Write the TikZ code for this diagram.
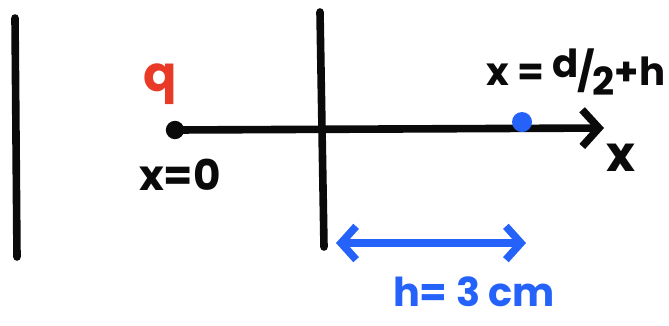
\documentclass[tikz,border=0pt]{standalone}
\usepackage{fontspec}
\setmainfont{Poppins}
\usetikzlibrary{arrows.meta,positioning,calc}
\definecolor{chargeRed}{RGB}{232,58,38}
\definecolor{markBlue}{RGB}{36,98,250}
\definecolor{inkBlack}{RGB}{10,10,10}
\tikzset{
  wall/.style={draw=inkBlack, line width=6.5pt, line cap=round},
  axis/.style={draw=inkBlack, line width=6.5pt, line cap=round, -{Straight Barb[length=5mm, width=11mm, line width=6.5pt]}},
  span/.style={draw=markBlue, line width=6.5pt, line cap=round, {Straight Barb[length=4.5mm, width=10mm, line width=6.5pt]}-{Straight Barb[length=4.5mm, width=10mm, line width=6.5pt]}},
  label/.style={inner sep=0pt, font=\fontsize{36}{38}\selectfont\bfseries, text=inkBlack},
  dot/.style={circle, inner sep=0pt, minimum size=#1}
}
\newcommand{\halfd}{\raisebox{0.35ex}{d}\kern-0.05em/\kern-0.05em\raisebox{-0.45ex}{2}}

\begin{document}
\begin{tikzpicture}[x=0.03cm, y=-0.03cm]
  \useasboundingbox (0,0) rectangle (669,325);

  % plates
  \coordinate (lefttop) at (15,18);
  \coordinate (leftbot) at (17,257);
  \coordinate (midtop) at (320,12);
  \coordinate (midbot) at (324,247);
  \draw[wall] (lefttop) -- (leftbot);
  \draw[wall] (midtop) -- (midbot);

  % x axis
  \coordinate (origin) at (175,130);
  \coordinate (axisend) at (604,128);
  \draw[axis] (origin) -- (axisend);
  \node[dot=5.5mm, fill=inkBlack] (q0) at (origin) {};
  \node[dot=6mm, fill=markBlue] (pt) at (522,122) {};

  % labels
  \node[label, text=chargeRed, font=\fontsize{42}{44}\selectfont\bfseries] (qlab) at (160,84) {q};
  \node[label] (x0lab) at (180,175) {x=0};
  \node[label, font=\fontsize{33}{35}\selectfont\bfseries] (ptlab) at (576,72) {x = \halfd+h};
  \node[label, font=\fontsize{42}{44}\selectfont\bfseries] (xlab) at (621,158) {x};

  % distance h
  \coordinate (hleft) at (336,243);
  \coordinate (hright) at (526,243);
  \draw[span] (hleft) -- (hright);
  \node[label, text=markBlue, font=\fontsize{34}{36}\selectfont\bfseries] (hlab) at (474,292) {h= 3 cm};
\end{tikzpicture}
\end{document}
